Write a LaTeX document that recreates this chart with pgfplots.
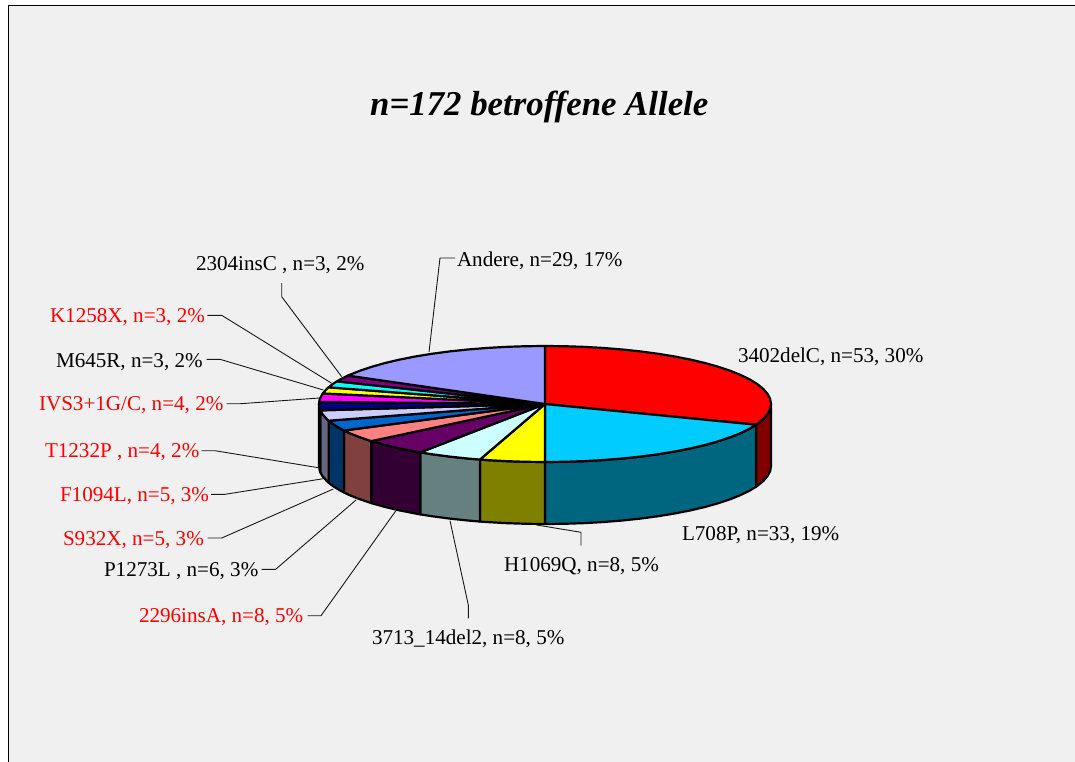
\documentclass[border=0pt]{standalone}
\usepackage{pgfplots}
\pgfplotsset{compat=1.18}
\usepackage{fontspec}
\setmainfont{Liberation Serif}
\definecolor{bgc}{HTML}{F0F0F0}
\definecolor{c1}{HTML}{FF0000}\definecolor{s1}{HTML}{800000}
\definecolor{c2}{HTML}{00CCFF}\definecolor{s2}{HTML}{006680}
\definecolor{c3}{HTML}{FFFF00}\definecolor{s3}{HTML}{808000}
\definecolor{c4}{HTML}{CCFFFF}\definecolor{s4}{HTML}{668080}
\definecolor{c5}{HTML}{660066}\definecolor{s5}{HTML}{330033}
\definecolor{c6}{HTML}{FF8080}\definecolor{s6}{HTML}{804040}
\definecolor{c7}{HTML}{0066CC}\definecolor{s7}{HTML}{003366}
\definecolor{c8}{HTML}{CCCCFF}\definecolor{s8}{HTML}{666680}
\definecolor{c9}{HTML}{000080}\definecolor{s9}{HTML}{000040}
\definecolor{c10}{HTML}{FF00FF}
\definecolor{c11}{HTML}{FFFF00}
\definecolor{c12}{HTML}{00FFFF}
\definecolor{c13}{HTML}{800080}
\definecolor{c14}{HTML}{9999FF}
\tikzset{
  pie/.style={draw=black,line width=2.2pt,line join=round},
  lead/.style={draw=black!90,line width=0.9pt,line join=round},
  lab/.style={font=\fontsize{21.1}{24}\selectfont,anchor=base west,inner sep=0pt,outer sep=0pt}}
\begin{document}
\begin{tikzpicture}
\begin{axis}[at={(0,0)},anchor=south west,scale only axis,width=1075pt,height=762pt,
  xmin=0,xmax=1075,ymin=0,ymax=762,y dir=reverse,hide axis]
% background
\addplot[fill=white,draw=none] coordinates {(0,0)(1075,0)(1075,762)(0,762)(0,0)};
\addplot[fill=bgc,draw=none] coordinates {(8,6)(1075,6)(1075,762)(8,762)(8,6)};
\addplot[draw=black,line width=1pt] coordinates {(8,762)(8,6)(1075,6)};
% sides
\addplot[pie,fill=s1] coordinates {(771,404)(770.14,409.06)(767.57,414.07)(763.3,419.01)(757.37,423.84)(756.08,424.72)(756.08,486.72)(757.37,485.84)(763.3,481.01)(767.57,476.07)(770.14,471.06)(771,466)(771,404)};
\addplot[pie,fill=s2] coordinates {(756.08,424.72)(749.83,428.51)(740.72,433)(730.13,437.27)(718.13,441.28)(704.81,445.01)(690.27,448.43)(674.63,451.51)(658,454.23)(640.51,456.57)(622.3,458.5)(603.49,460.02)(584.25,461.12)(564.7,461.78)(545,462)(545,524)(564.7,523.78)(584.25,523.12)(603.49,522.02)(622.3,520.5)(640.51,518.57)(658,516.23)(674.63,513.51)(690.27,510.43)(704.81,507.01)(718.13,503.28)(730.13,499.27)(740.72,495)(749.83,490.51)(756.08,486.72)(756.08,424.72)};
\addplot[pie,fill=s3] coordinates {(545,462)(525.3,461.78)(505.75,461.12)(486.51,460.02)(479.91,459.54)(479.91,521.54)(486.51,522.02)(505.75,523.12)(525.3,523.78)(545,524)(545,462)};
\addplot[pie,fill=s4] coordinates {(479.91,459.54)(467.7,458.5)(449.49,456.57)(432,454.23)(420.3,452.37)(420.3,514.37)(432,516.23)(449.49,518.57)(467.7,520.5)(479.91,521.54)(479.91,459.54)};
\addplot[pie,fill=s5] coordinates {(420.3,452.37)(415.37,451.51)(399.73,448.43)(385.19,445.01)(371.87,441.28)(371.3,441.1)(371.3,503.1)(371.87,503.28)(385.19,507.01)(399.73,510.43)(415.37,513.51)(420.3,514.37)(420.3,452.37)};
\addplot[pie,fill=s6] coordinates {(371.3,441.1)(359.87,437.27)(349.28,433)(344,430.52)(344,492.52)(349.28,495)(359.87,499.27)(371.3,503.1)(371.3,441.1)};
\addplot[pie,fill=s7] coordinates {(344,430.52)(340.17,428.51)(332.63,423.84)(328.6,420.7)(328.6,482.7)(332.63,485.84)(340.17,490.51)(344,492.52)(344,430.52)};
\addplot[pie,fill=s8] coordinates {(328.6,420.7)(326.7,419.01)(322.43,414.07)(320.36,410.34)(320.36,472.34)(322.43,476.07)(326.7,481.01)(328.6,482.7)(328.6,420.7)};
\addplot[pie,fill=s9] coordinates {(320.36,410.34)(319.86,409.06)(319,404)(319,466)(319.86,471.06)(320.36,472.34)(320.36,410.34)};
% top wedges
\addplot[pie,fill=c1] coordinates {(545,404)(545,346)(564.7,346.22)(584.25,346.88)(603.49,347.98)(622.3,349.5)(640.51,351.43)(658,353.77)(674.63,356.49)(690.27,359.57)(704.81,362.99)(718.13,366.72)(730.13,370.73)(740.72,375)(749.83,379.49)(757.37,384.16)(763.3,388.99)(767.57,393.93)(770.14,398.94)(771,404)(770.14,409.06)(767.57,414.07)(763.3,419.01)(757.37,423.84)(756.08,424.72)(545,404)};
\addplot[pie,fill=c2] coordinates {(545,404)(756.08,424.72)(749.83,428.51)(740.72,433)(730.13,437.27)(718.13,441.28)(704.81,445.01)(690.27,448.43)(674.63,451.51)(658,454.23)(640.51,456.57)(622.3,458.5)(603.49,460.02)(584.25,461.12)(564.7,461.78)(545,462)(545,404)};
\addplot[pie,fill=c3] coordinates {(545,404)(545,462)(525.3,461.78)(505.75,461.12)(486.51,460.02)(479.91,459.54)(545,404)};
\addplot[pie,fill=c4] coordinates {(545,404)(479.91,459.54)(467.7,458.5)(449.49,456.57)(432,454.23)(420.3,452.37)(545,404)};
\addplot[pie,fill=c5] coordinates {(545,404)(420.3,452.37)(415.37,451.51)(399.73,448.43)(385.19,445.01)(371.87,441.28)(371.3,441.1)(545,404)};
\addplot[pie,fill=c6] coordinates {(545,404)(371.3,441.1)(359.87,437.27)(349.28,433)(344,430.52)(545,404)};
\addplot[pie,fill=c7] coordinates {(545,404)(344,430.52)(340.17,428.51)(332.63,423.84)(328.6,420.7)(545,404)};
\addplot[pie,fill=c8] coordinates {(545,404)(328.6,420.7)(326.7,419.01)(322.43,414.07)(320.36,410.34)(545,404)};
\addplot[pie,fill=c9] coordinates {(545,404)(320.36,410.34)(319.86,409.06)(319,404)(319.15,401.88)(545,404)};
\addplot[pie,fill=c10] coordinates {(545,404)(319.15,401.88)(319.86,398.94)(322.43,393.93)(322.76,393.46)(545,404)};
\addplot[pie,fill=c11] coordinates {(545,404)(322.76,393.46)(326.7,388.99)(328.6,387.3)(545,404)};
\addplot[pie,fill=c12] coordinates {(545,404)(328.6,387.3)(332.63,384.16)(337,381.32)(545,404)};
\addplot[pie,fill=c13] coordinates {(545,404)(337,381.32)(340.17,379.49)(347.9,375.61)(545,404)};
\addplot[pie,fill=c14] coordinates {(545,404)(347.9,375.61)(349.28,375)(359.87,370.73)(371.87,366.72)(385.19,362.99)(399.73,359.57)(415.37,356.49)(432,353.77)(449.49,351.43)(467.7,349.5)(486.51,347.98)(505.75,346.88)(525.3,346.22)(545,346)(545,404)};
% leader lines
\addplot[lead] coordinates {(455,258)(440,258)(429,352)};
\addplot[lead] coordinates {(281.7,283)(281.7,296.7)(341.7,376.7)};
\addplot[lead] coordinates {(207.3,315.3)(221.7,315.3)(331.7,383.3)};
\addplot[lead] coordinates {(206.7,359.3)(220,359.3)(323.3,390)};
\addplot[lead] coordinates {(226.7,403.7)(240.7,403.7)(319.3,398)};
\addplot[lead] coordinates {(201.7,450.7)(215,450.7)(318.3,467.7)};
\addplot[lead] coordinates {(211,494.3)(225,494.3)(323.3,478.7)};
\addplot[lead] coordinates {(207.7,538)(221.7,538)(333.3,489)};
\addplot[lead] coordinates {(261.7,569.3)(275.7,569.3)(356,500)};
\addplot[lead] coordinates {(307.7,615.7)(321,615.7)(395.7,511)};
\addplot[lead] coordinates {(468.3,618.3)(468.3,605)(450,520.7)};
\addplot[lead] coordinates {(581,545.7)(581,532.3)(536.7,525)};
% labels
\node[anchor=base west,inner sep=0pt,font=\fontsize{34.8}{38}\selectfont\bfseries\itshape] at (axis cs:370,115.5) {n=172 betroffene Allele};
\node[lab] at (axis cs:457,266.5) {Andere, n=29, 17\%};
\node[lab] at (axis cs:196,270.5) {2304insC , n=3, 2\%};
\node[lab,text=red] at (axis cs:50,322.5) {K1258X, n=3, 2\%};
\node[lab] at (axis cs:56,367.5) {M645R, n=3, 2\%};
\node[lab,text=red] at (axis cs:39,410.5) {IVS3+1G/C, n=4, 2\%};
\node[lab,text=red] at (axis cs:45,457.5) {T1232P , n=4, 2\%};
\node[lab,text=red] at (axis cs:60,501) {F1094L, n=5, 3\%};
\node[lab,text=red] at (axis cs:63,545.5) {S932X, n=5, 3\%};
\node[lab] at (axis cs:104,576.5) {P1273L , n=6, 3\%};
\node[lab,text=red] at (axis cs:139,622.5) {2296insA, n=8, 5\%};
\node[lab] at (axis cs:372,644.5) {3713\_14del2, n=8, 5\%};
\node[lab] at (axis cs:504,571.5) {H1069Q, n=8, 5\%};
\node[lab] at (axis cs:682,540) {L708P, n=33, 19\%};
\node[lab] at (axis cs:738,362.5) {3402delC, n=53, 30\%};
\end{axis}
\end{tikzpicture}
\end{document}
